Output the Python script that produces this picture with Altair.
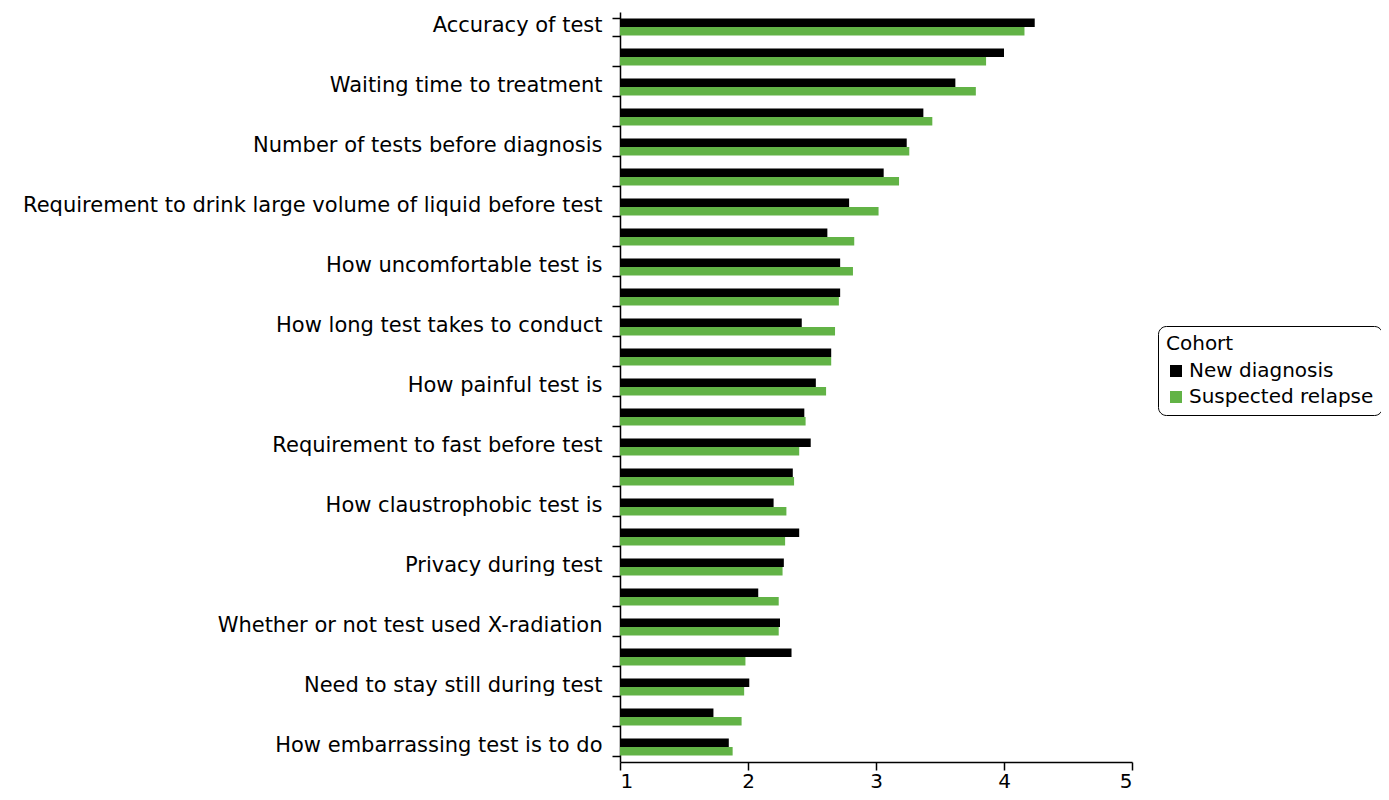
import altair as alt
import pandas as pd

labels = [
    "Accuracy of test", "",
    "Waiting time to treatment", "",
    "Number of tests before diagnosis", "",
    "Requirement to drink large volume of liquid before test", "",
    "How uncomfortable test is", "",
    "How long test takes to conduct", "",
    "How painful test is", "",
    "Requirement to fast before test", "",
    "How claustrophobic test is", "",
    "Privacy during test", "",
    "Whether or not test used X-radiation", "",
    "Need to stay still during test", "",
    "How embarrassing test is to do",
]
new_diagnosis = [4.24, 4.00, 3.62, 3.37, 3.24, 3.06, 2.79, 2.62, 2.72, 2.72,
                 2.42, 2.65, 2.53, 2.44, 2.49, 2.35, 2.20, 2.40, 2.28, 2.08,
                 2.25, 2.34, 2.01, 1.73, 1.85]
suspected_relapse = [4.16, 3.86, 3.78, 3.44, 3.26, 3.18, 3.02, 2.83, 2.82, 2.71,
                     2.68, 2.65, 2.61, 2.45, 2.40, 2.36, 2.30, 2.29, 2.27, 2.24,
                     2.24, 1.98, 1.97, 1.95, 1.88]
cohorts = ["New diagnosis", "Suspected relapse"]
colors = ["#000000", "#62B346"]

rows = []
for i in range(len(labels)):
    rows.append({"idx": i, "Cohort": cohorts[0], "value": new_diagnosis[i], "base": 1})
    rows.append({"idx": i, "Cohort": cohorts[1], "value": suspected_relapse[i], "base": 1})
df = pd.DataFrame(rows)

FONT = "DejaVu Sans"
label_arr = "[" + ",".join("'" + l.replace("'", "\\'") + "'" for l in labels) + "]"

chart = alt.Chart(df).mark_bar().encode(
    y=alt.Y("idx:O",
            scale=alt.Scale(paddingInner=0.43, paddingOuter=0.215),
            axis=alt.Axis(title=None, tickBand="extent", tickSize=8, tickWidth=1.5,
                          tickColor="black", domainColor="black", domainWidth=1.5,
                          labelExpr=label_arr + "[datum.value]",
                          labelFont=FONT, labelFontSize=21, labelColor="black",
                          labelPadding=10, labelLimit=700, labelOffset=-2)),
    yOffset=alt.YOffset("Cohort:N", sort=cohorts, scale=alt.Scale(paddingInner=0)),
    x=alt.X("value:Q", scale=alt.Scale(domain=[1, 5], zero=False, nice=False),
            axis=alt.Axis(title=None, values=[1, 2, 3, 4, 5], grid=False, tickSize=8,
                          tickWidth=1.5, tickColor="black", domainColor="black",
                          domainWidth=1.5, labelFont=FONT, labelFontSize=20,
                          labelColor="black", labelPadding=1, format="d")),
    x2="base:Q",
    color=alt.Color("Cohort:N", sort=cohorts,
                    scale=alt.Scale(domain=cohorts, range=colors),
                    legend=alt.Legend(title="Cohort", orient="none", legendX=538, legendY=314,
                                      strokeColor="black", cornerRadius=8, padding=8,
                                      titleFont=FONT, titleFontSize=20, titleFontWeight="normal",
                                      titleColor="black", labelFont=FONT, labelFontSize=20,
                                      labelColor="black", labelLimit=400,
                                      symbolType="square", symbolSize=144,
                                      symbolStrokeWidth=0, rowPadding=6, titlePadding=7,
                                      labelOffset=3)),
).properties(
    width=512, height=750,
    autosize=alt.AutoSizeParams(type="none"),
    padding={"left": 612, "top": 4, "right": 249, "bottom": 30},
).configure_view(stroke=None)

chart.save("out.html", embed_options={"renderer": "svg", "actions": False})
